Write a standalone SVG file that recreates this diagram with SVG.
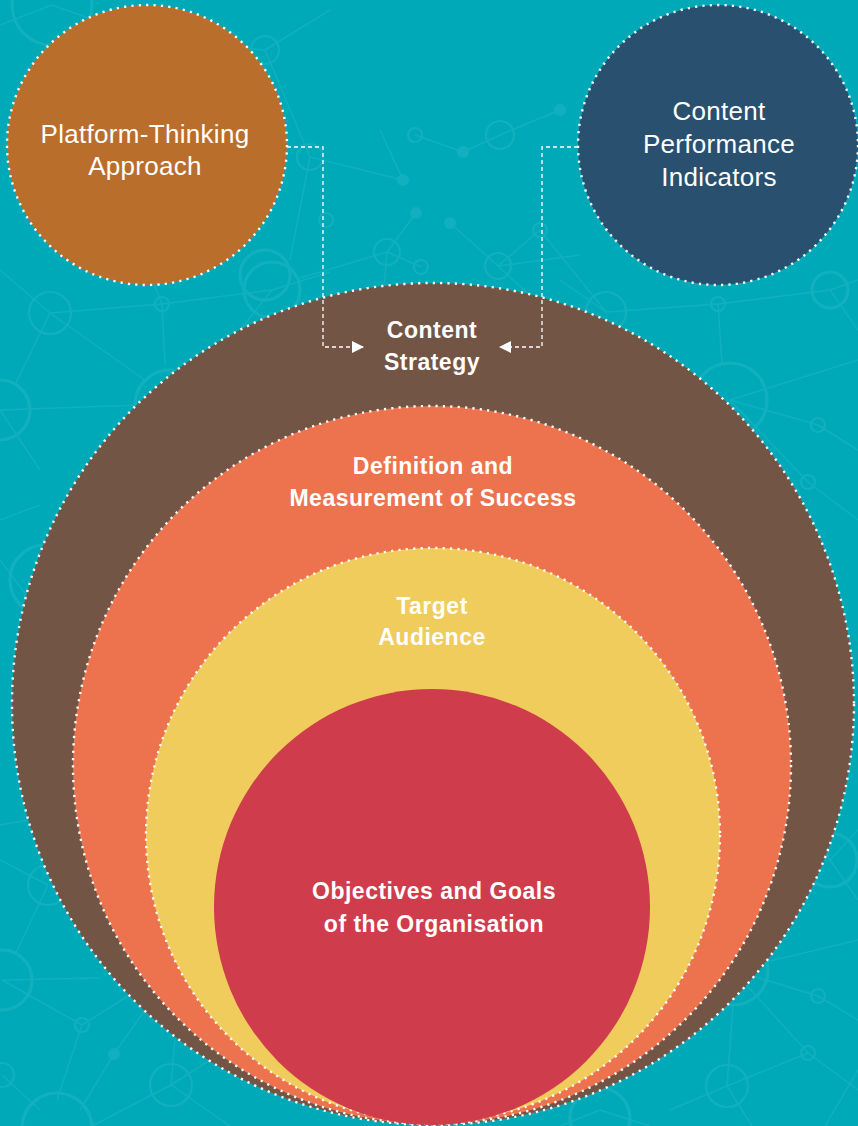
<svg xmlns="http://www.w3.org/2000/svg" width="858" height="1126" viewBox="0 0 858 1126">
  <defs>
    <style>
      .bg { fill: #00A9B8; }
      .pat { opacity: 0.8; }
      .pl { stroke: #17B2C0; stroke-width: 1.5; fill: none; }
      .pr { stroke: #17B2C0; stroke-width: 3.2; fill: none; }
      .ps { stroke: #17B2C0; stroke-width: 2.2; fill: none; }
      .pd { fill: #17B2C0; }
      .dot { stroke: #FFFFFF; stroke-width: 2.4; stroke-dasharray: 2.2 5.2; }
      .reg { font-family: "Liberation Sans", Arial, Helvetica, sans-serif; font-size: 26px; fill: #FFFFFF; text-anchor: middle; letter-spacing: 0.3px; }
      .bold { font-family: "Liberation Sans", Arial, Helvetica, sans-serif; font-size: 23px; font-weight: bold; fill: #FFFFFF; text-anchor: middle; letter-spacing: 0.5px; }
      .conn { stroke: #FFFFFF; stroke-width: 1.3; stroke-dasharray: 4 3; fill: none; }
    </style>
    <marker id="arrow" viewBox="0 0 12 12" refX="11" refY="6" markerWidth="12" markerHeight="12" markerUnits="userSpaceOnUse" orient="auto">
      <path d="M0,0 L12,6 L0,12 Z" fill="#FFFFFF"/>
    </marker>
  </defs>

  <g id="background">
    <rect class="bg" x="0" y="0" width="858" height="1126"/>
    <g class="pat">
      <path class="pl" d="M0,25 L52,5 M52,5 L150,40 M150,40 L265,50 M265,50 L330,10 M265,50 L310,157 M310,157 L290,260 M310,157 L403,180 M403,180 L380,130 M415,135 L463,152 M463,152 L500,135 M500,135 L560,110 M416,213 L387,252 M387,252 L421,267 M387,252 L300,278 M387,252 L383,300 M450,223 L498,266 M498,266 L540,230 M498,266 L580,255 M498,266 L535,300 M540,230 L606,312 M606,312 L718,304 M718,304 L830,290 M718,304 L722,365 M830,290 L858,280 M730,400 L818,425 M818,425 L858,450 M730,400 L808,482 M808,482 L858,520 M730,400 L858,360 M606,312 L560,280 M830,290 L858,330"/>
      <path class="pl" d="M0,270 L50,313 M50,313 L162,304 M162,304 L272,290 M162,304 L165,365 M162,304 L145,262 M50,313 L145,380 M50,313 L15,385 M0,410 L140,405 M0,410 L40,470 M272,290 L330,272 M272,290 L240,330 M0,520 L40,505 M0,560 L30,600"/>
      <path class="pl" d="M0,825 L28,820 M48,885 L0,860 M48,885 L15,955 M2,980 L100,978 M2,980 L82,1025 M82,1025 L128,996 M82,1025 L57,1100 M114,1054 L145,1010 M114,1054 L80,1110 M171,1085 L175,1040 M171,1085 L92,1126 M2,1075 L40,1110 M171,1085 L230,1126 M171,1085 L210,1060"/>
      <path class="pl" d="M733,970 L858,940 M733,970 L818,996 M818,996 L858,1020 M733,970 L808,1053 M808,1053 L858,1090 M808,1053 L727,1086 M727,1086 L733,1005 M727,1086 L670,1110 M727,1086 L752,1126 M858,1070 L825,1126 M830,860 L858,830 M830,860 L800,800 M830,860 L858,900 M600,1110 L650,1126 M600,1110 L560,1126"/>
      <circle class="pr" cx="52" cy="5" r="40"/>
      <circle class="ps" cx="265" cy="50" r="14"/>
      <circle class="pr" cx="265" cy="275" r="25"/>
      <circle class="ps" cx="310" cy="157" r="13"/>
      <circle class="ps" cx="415" cy="135" r="7"/>
      <circle class="ps" cx="500" cy="135" r="14"/>
      <circle class="pd" cx="403" cy="180" r="6"/>
      <circle class="pd" cx="416" cy="213" r="6"/>
      <circle class="pd" cx="450" cy="223" r="6"/>
      <circle class="pd" cx="463" cy="152" r="6"/>
      <circle class="pd" cx="560" cy="110" r="6"/>
      <circle class="ps" cx="387" cy="252" r="13"/>
      <circle class="ps" cx="421" cy="267" r="7"/>
      <circle class="ps" cx="498" cy="266" r="13"/>
      <circle class="ps" cx="540" cy="230" r="7"/>
      <circle class="ps" cx="326" cy="220" r="7"/>
      <circle class="ps" cx="50" cy="313" r="21"/>
      <circle class="ps" cx="162" cy="304" r="7"/>
      <circle class="pr" cx="272" cy="290" r="28"/>
      <circle class="pr" cx="170" cy="405" r="35"/>
      <circle class="pr" cx="0" cy="410" r="30"/>
      <circle class="ps" cx="606" cy="312" r="20"/>
      <circle class="ps" cx="718" cy="304" r="7"/>
      <circle class="pr" cx="830" cy="290" r="18"/>
      <circle class="pr" cx="730" cy="400" r="37"/>
      <circle class="ps" cx="818" cy="425" r="7"/>
      <circle class="ps" cx="808" cy="482" r="7"/>
      <circle class="pr" cx="45" cy="580" r="35"/>
      <circle class="ps" cx="48" cy="885" r="20"/>
      <circle class="pr" cx="2" cy="980" r="30"/>
      <circle class="ps" cx="82" cy="1025" r="7"/>
      <circle class="pd" cx="114" cy="1054" r="6"/>
      <circle class="ps" cx="171" cy="1085" r="21"/>
      <circle class="ps" cx="2" cy="1075" r="12"/>
      <circle class="pr" cx="57" cy="1128" r="35"/>
      <circle class="pr" cx="830" cy="860" r="27"/>
      <circle class="pr" cx="733" cy="970" r="35"/>
      <circle class="ps" cx="818" cy="996" r="7"/>
      <circle class="ps" cx="808" cy="1053" r="7"/>
      <circle class="ps" cx="727" cy="1086" r="21"/>
      <circle class="pr" cx="600" cy="1118" r="30"/>
    </g>
  </g>

  <g id="node-platform-thinking">
    <circle cx="147" cy="145" r="140" fill="#BA6E2C"/>
    <circle class="dot" cx="147" cy="145" r="140" fill="none"/>
    <text class="reg" x="145" y="143">Platform-Thinking</text>
    <text class="reg" x="145" y="175">Approach</text>
  </g>

  <g id="node-content-performance">
    <circle cx="718" cy="145" r="140" fill="#29506F"/>
    <circle class="dot" cx="718" cy="145" r="140" fill="none"/>
    <text class="reg" x="719" y="120">Content</text>
    <text class="reg" x="719" y="153">Performance</text>
    <text class="reg" x="719" y="186">Indicators</text>
  </g>

  <g id="node-content-strategy">
    <circle cx="433" cy="704" r="421" fill="#735546"/>
    <circle class="dot" cx="433" cy="704" r="421" fill="none"/>
    <text class="bold" x="432" y="338">Content</text>
    <text class="bold" x="432" y="370">Strategy</text>
  </g>

  <g id="node-definition-success">
    <circle cx="432" cy="765" r="359" fill="#EC734D"/>
    <circle class="dot" cx="432" cy="765" r="359" fill="none"/>
    <text class="bold" x="433" y="474">Definition and</text>
    <text class="bold" x="433" y="506">Measurement of Success</text>
  </g>

  <g id="node-target-audience">
    <circle cx="433" cy="835" r="287" fill="#EFCC5C"/>
    <circle class="dot" cx="433" cy="835" r="287" fill="none"/>
    <text class="bold" x="432" y="614">Target</text>
    <text class="bold" x="432" y="645">Audience</text>
  </g>

  <g id="node-objectives">
    <circle cx="432" cy="907" r="218" fill="#CF3C4B"/>
    <text class="bold" x="434" y="899">Objectives and Goals</text>
    <text class="bold" x="434" y="932">of the Organisation</text>
  </g>

  <g id="connectors">
    <path class="conn" d="M287,147 L323,147 L323,347 L363,347" marker-end="url(#arrow)"/>
    <path class="conn" d="M578,147 L542,147 L542,347 L500,347" marker-end="url(#arrow)"/>
  </g>
</svg>
